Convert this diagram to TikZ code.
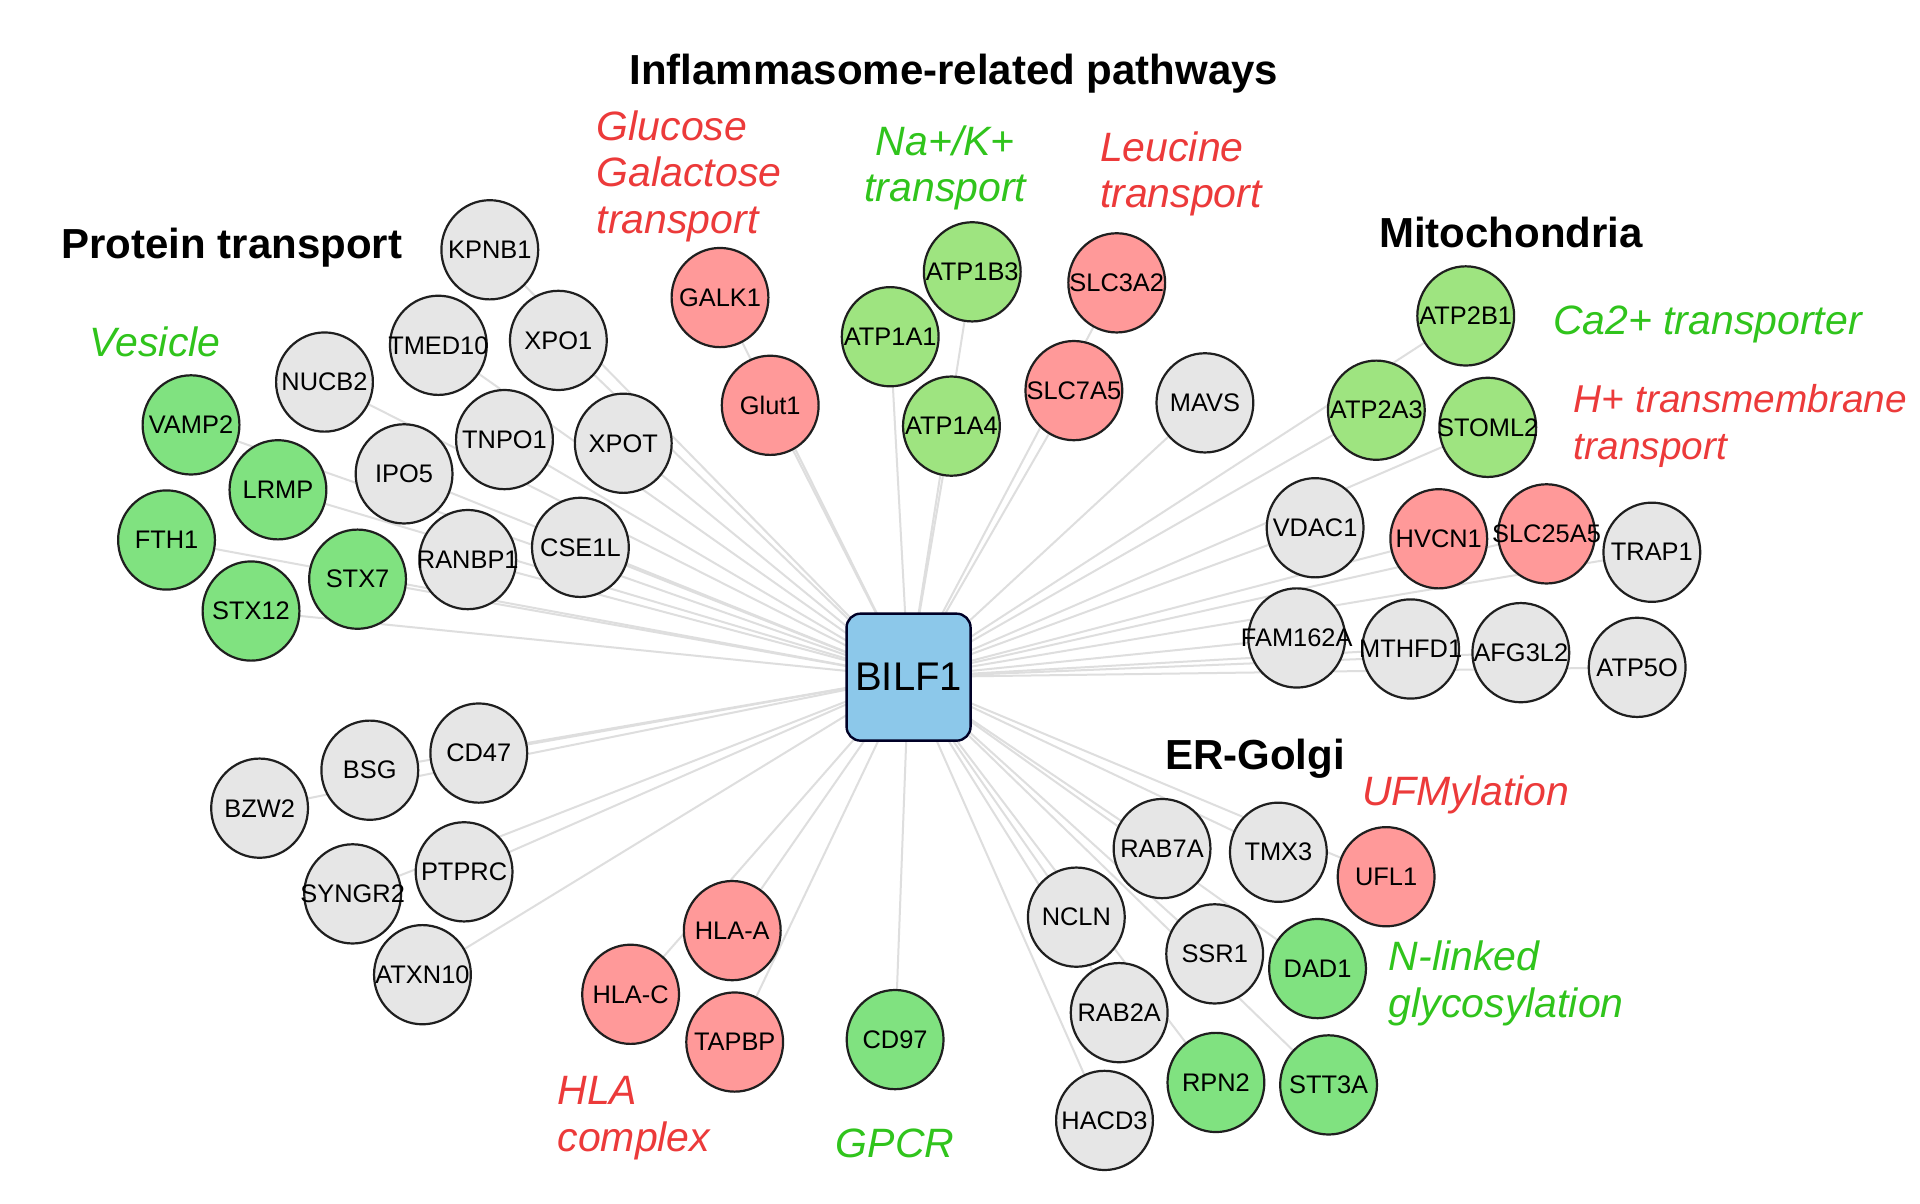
\documentclass[tikz,border=0pt]{standalone}
\usepackage{fontspec}
\setmainfont{Liberation Sans}
\usetikzlibrary{shapes.geometric,backgrounds}
\definecolor{grayfill}{RGB}{230,230,230}
\definecolor{redfill}{RGB}{255,153,153}
\definecolor{greenfill}{RGB}{128,226,128}
\definecolor{lgreenfill}{RGB}{158,228,128}
\definecolor{bluefill}{RGB}{140,200,234}
\definecolor{edgegray}{RGB}{222,222,222}
\definecolor{labred}{RGB}{236,58,58}
\definecolor{labgreen}{RGB}{48,196,28}
\begin{document}
\begin{tikzpicture}[x=0.6122pt,y=-0.6122pt,
  gene/.style={ellipse,draw=black!88,line width=1.1pt,minimum width=48.4pt,minimum height=49.6pt,inner sep=0pt,
    font=\fontsize{12.7}{14}\selectfont,
    execute at begin node={\hbox to 0pt\bgroup\hss},
    execute at end node={\hss\egroup}},
  gg/.style={gene,fill=grayfill},
  rr/.style={gene,fill=redfill},
  gr/.style={gene,fill=greenfill},
  lg/.style={gene,fill=lgreenfill},
  hub/.style={rectangle,rounded corners=7pt,draw=black!85!blue,line width=1.2pt,fill=bluefill,minimum width=62pt,minimum height=63.5pt,inner sep=0pt,font=\fontsize{20}{22}\selectfont},
  ttl/.style={font=\fontsize{21}{24}\selectfont\bfseries,inner sep=0pt},
  catred/.style={text=labred,font=\fontsize{20.5}{23.3}\selectfont\itshape,inner sep=0pt,align=left},
  catgreen/.style={text=labgreen,font=\fontsize{20.5}{23.3}\selectfont\itshape,inner sep=0pt,align=left},
  link/.style={draw=edgegray,line width=1pt}]
\useasboundingbox (0,0) rectangle (1568,983);

% hub
\node[hub] (bilf) at (742,553) {BILF1};

% titles
\node[ttl] (t1) at (779,60) {Inflammasome-related pathways};
\node[ttl,anchor=west] (t2) at (50,202) {Protein transport};
\node[ttl] (t3) at (1234,190) {Mitochondria};
\node[ttl] (t4) at (1025,620) {ER-Golgi};

% category labels
\node[catred,anchor=west] (c1) at (487,144) {Glucose\\Galactose\\transport};
\node[catgreen,align=center] (c2) at (772,137) {Na+/K+\\transport};
\node[catred,anchor=west] (c3) at (898,142) {Leucine\\transport};
\node[catgreen,anchor=west] (c4) at (73,279) {Vesicle};
\node[catgreen,anchor=west] (c5) at (1268,265) {Ca2+ transporter};
\node[catred,anchor=west,font=\fontsize{19.4}{23.3}\selectfont\itshape] (c6) at (1285,348) {H+ transmembrane\\transport};
\node[catred,anchor=west] (c7) at (1112,649) {UFMylation};
\node[catgreen,anchor=west] (c8) at (1134,803) {N-linked\\glycosylation};
\node[catred,anchor=west] (c9) at (455,913) {HLA\\complex};
\node[catgreen] (c10) at (731,934) {GPCR};

% protein transport
\node[gg] (KPNB1) at (400,204) {KPNB1};
\node[gg] (TMED10) at (358,282) {TMED10};
\node[gg] (XPO1) at (456,278) {XPO1};
\node[gg] (NUCB2) at (265,312) {NUCB2};
\node[gr] (VAMP2) at (156,347) {VAMP2};
\node[gg] (TNPO1) at (412,359) {TNPO1};
\node[gg] (XPOT) at (509,362) {XPOT};
\node[gg] (IPO5) at (330,387) {IPO5};
\node[gr] (LRMP) at (227,400) {LRMP};
\node[gr] (FTH1) at (136,441) {FTH1};
\node[gg] (RANBP1) at (382,457) {RANBP1};
\node[gg] (CSE1L) at (474,447) {CSE1L};
\node[gr] (STX7) at (292,473) {STX7};
\node[gr] (STX12) at (205,499) {STX12};

% inflammasome
\node[rr] (GALK1) at (588,243) {GALK1};
\node[rr] (Glut1) at (629,331) {Glut1};
\node[lg] (ATP1B3) at (794,222) {ATP1B3};
\node[lg] (ATP1A1) at (727,275) {ATP1A1};
\node[lg] (ATP1A4) at (777,348) {ATP1A4};
\node[rr] (SLC3A2) at (912,231) {SLC3A2};
\node[rr] (SLC7A5) at (877,319) {SLC7A5};
\node[gg] (MAVS) at (984,329) {MAVS};

% mitochondria
\node[lg] (ATP2B1) at (1197,258) {ATP2B1};
\node[lg] (ATP2A3) at (1124,335) {ATP2A3};
\node[lg] (STOML2) at (1215,349) {STOML2};
\node[gg] (VDAC1) at (1074,431) {VDAC1};
\node[rr] (HVCN1) at (1175,440) {HVCN1};
\node[rr] (SLC25A5) at (1263,436) {SLC25A5};
\node[gg] (TRAP1) at (1349,451) {TRAP1};
\node[gg] (FAM162A) at (1059,521) {FAM162A};
\node[gg] (MTHFD1) at (1152,530) {MTHFD1};
\node[gg] (AFG3L2) at (1242,533) {AFG3L2};
\node[gg] (ATP5O) at (1337,545) {ATP5O};

% bottom left
\node[gg] (CD47) at (391,615) {CD47};
\node[gg] (BSG) at (302,629) {BSG};
\node[gg] (BZW2) at (212,660) {BZW2};
\node[gg] (PTPRC) at (379,712) {PTPRC};
\node[gg] (SYNGR2) at (288,730) {SYNGR2};
\node[gg] (ATXN10) at (345,796) {ATXN10};

% HLA / GPCR
\node[rr] (HLAA) at (598,760) {HLA-A};
\node[rr] (HLAC) at (515,812) {HLA-C};
\node[rr] (TAPBP) at (600,851) {TAPBP};
\node[gr] (CD97) at (731,849) {CD97};

% ER-Golgi
\node[gg] (RAB7A) at (949,693) {RAB7A};
\node[gg] (TMX3) at (1044,696) {TMX3};
\node[rr] (UFL1) at (1132,716) {UFL1};
\node[gg] (NCLN) at (879,749) {NCLN};
\node[gg] (SSR1) at (992,779) {SSR1};
\node[gr] (DAD1) at (1076,791) {DAD1};
\node[gg] (RAB2A) at (914,827) {RAB2A};
\node[gr] (RPN2) at (993,884) {RPN2};
\node[gr] (STT3A) at (1085,886) {STT3A};
\node[gg] (HACD3) at (902,915) {HACD3};

\begin{pgfonlayer}{background}
\fill[white] (0,0) rectangle (1568,983);
\foreach \n in {KPNB1,TMED10,XPO1,NUCB2,VAMP2,TNPO1,XPOT,IPO5,LRMP,FTH1,RANBP1,CSE1L,STX7,STX12,
  GALK1,Glut1,ATP1B3,ATP1A1,ATP1A4,SLC3A2,SLC7A5,MAVS,
  ATP2B1,ATP2A3,STOML2,VDAC1,HVCN1,SLC25A5,TRAP1,FAM162A,MTHFD1,AFG3L2,ATP5O,
  CD47,BSG,BZW2,PTPRC,SYNGR2,ATXN10,HLAA,HLAC,TAPBP,CD97,
  RAB7A,TMX3,UFL1,NCLN,SSR1,DAD1,RAB2A,RPN2,STT3A,HACD3}
  \draw[link] (bilf.center) -- (\n.center);
\end{pgfonlayer}
\end{tikzpicture}
\end{document}
